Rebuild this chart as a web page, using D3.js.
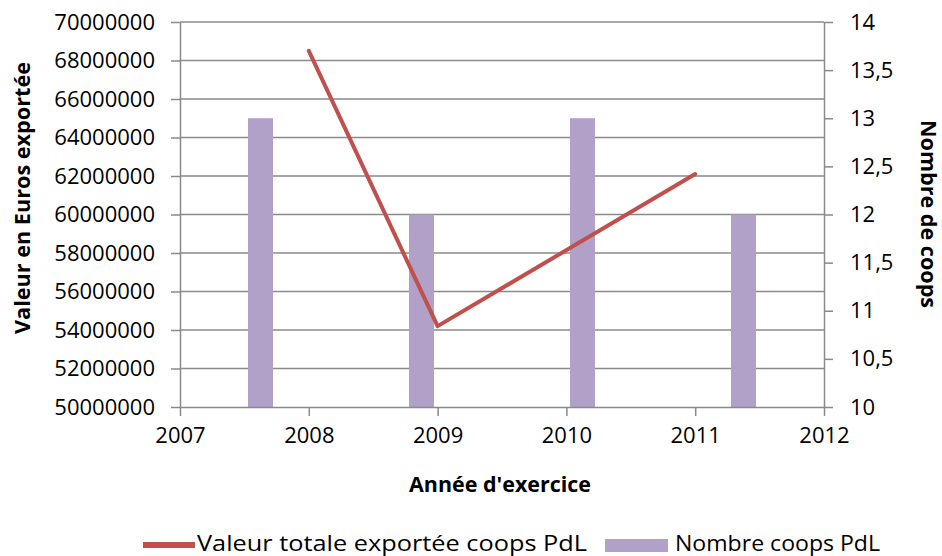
<!DOCTYPE html>
<html><head><meta charset="utf-8">
<script src="https://cdn.jsdelivr.net/npm/d3@7"></script>
<style>
html,body{margin:0;padding:0;background:#fff;}
svg text{font-family:"Open Sans",Lato,sans-serif;fill:#000;}
</style></head>
<body>
<svg id="chart" width="942" height="556"></svg>
<script>
// ---- data ----
const lineYears = [2008, 2009, 2011];
const lineValues = [68500000, 54200000, 62100000];
const barCategories = ["2008", "2009", "2010", "2011"];
const barValues = [13, 12, 13, 12];
const xTicks = [2007, 2008, 2009, 2010, 2011, 2012];
const leftTicks = [50000000, 52000000, 54000000, 56000000, 58000000, 60000000, 62000000, 64000000, 66000000, 68000000, 70000000];
const rightTicks = [10, 10.5, 11, 11.5, 12, 12.5, 13, 13.5, 14];
const seriesNames = ["Valeur totale exportée coops PdL", "Nombre coops PdL"];
const axisTitles = {left: "Valeur en Euros exportée", right: "Nombre de coops", x: "Année d'exercice"};

// ---- layout ----
const L = 180, R = 824, T = 22, B = 407;
const gridColor = "#8a8a8a";
const lineColor = "#C0504D";
const barColor = "#B1A0C7";

const svg = d3.select("#chart");

const x = d3.scaleLinear().domain([2007, 2012]).range([L, R]);
const yL = d3.scaleLinear().domain([50000000, 70000000]).range([B, T]);
const yR = d3.scaleLinear().domain([10, 14]).range([B, T]);
const xb = d3.scaleBand().domain(barCategories).range([L, R]).padding(0);

// gridlines
svg.append("g").selectAll("line").data(leftTicks.slice(1)).join("line")
  .attr("x1", L).attr("x2", R)
  .attr("y1", d => yL(d)).attr("y2", d => yL(d))
  .attr("stroke", gridColor).attr("stroke-width", 1.5);

// bars
const bw = 25;
svg.append("g").selectAll("rect").data(barValues).join("rect")
  .attr("x", (d, i) => xb(barCategories[i]) + xb.bandwidth() / 2 - bw / 2)
  .attr("width", bw)
  .attr("y", d => yR(d))
  .attr("height", d => B - yR(d))
  .attr("fill", barColor);

// axes
function styleAxis(g) {
  g.select(".domain").attr("stroke", gridColor).attr("stroke-width", 1.5);
  g.selectAll(".tick line").attr("stroke", gridColor).attr("stroke-width", 1.5);
  g.selectAll(".tick text").style("font-size", "22px").attr("fill", "#000");
}
const axL = svg.append("g").attr("transform", `translate(${L},0)`)
  .call(d3.axisLeft(yL).tickValues(leftTicks).tickFormat(d3.format("d")).tickSize(9).tickSizeOuter(0).tickPadding(16));
styleAxis(axL);

const frFmt = d => String(d).replace(".", ",");
const axR = svg.append("g").attr("transform", `translate(${R},0)`)
  .call(d3.axisRight(yR).tickValues(rightTicks).tickFormat(frFmt).tickSize(9).tickSizeOuter(0).tickPadding(17));
styleAxis(axR);

const axX = svg.append("g").attr("transform", `translate(0,${B})`)
  .call(d3.axisBottom(x).tickValues(xTicks).tickFormat(d3.format("d")).tickSize(9).tickSizeOuter(0).tickPadding(11));
styleAxis(axX);

// line
svg.append("path")
  .datum(lineYears.map((yr, i) => [yr, lineValues[i]]))
  .attr("fill", "none").attr("stroke", lineColor).attr("stroke-width", 4)
  .attr("stroke-linecap", "round").attr("stroke-linejoin", "round")
  .attr("d", d3.line().x(d => x(d[0])).y(d => yL(d[1])));

// axis titles
function title(t, tr, len) {
  svg.append("text").attr("transform", tr)
    .attr("text-anchor", "middle").style("font-size", "21px").style("font-weight", "bold")
    .attr("textLength", len).attr("lengthAdjust", "spacingAndGlyphs")
    .text(t);
}
title(axisTitles.left, "translate(30,198) rotate(-90)", 272);
title(axisTitles.right, "translate(921,214) rotate(90)", 188);
title(axisTitles.x, "translate(500,492)", 182);

// legend
const lg = svg.append("g");
lg.append("line").attr("x1", 143).attr("x2", 195).attr("y1", 545).attr("y2", 545)
  .attr("stroke", lineColor).attr("stroke-width", 6);
lg.append("text").attr("x", 197).attr("y", 551).style("font-size", "22px")
  .attr("textLength", 390).attr("lengthAdjust", "spacingAndGlyphs").text(seriesNames[0]);
lg.append("rect").attr("x", 605).attr("y", 539).attr("width", 63).attr("height", 13).attr("fill", barColor);
lg.append("text").attr("x", 675).attr("y", 551).style("font-size", "22px")
  .attr("textLength", 205).attr("lengthAdjust", "spacingAndGlyphs").text(seriesNames[1]);
</script>
</body></html>
